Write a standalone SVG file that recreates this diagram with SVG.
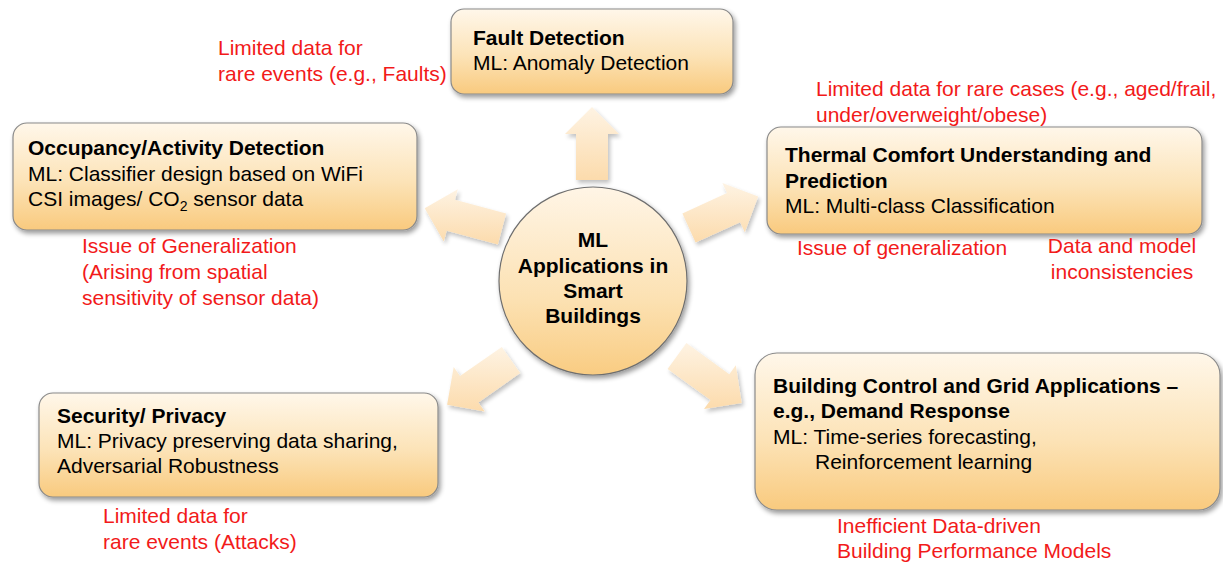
<svg xmlns="http://www.w3.org/2000/svg" width="1223" height="563" viewBox="0 0 1223 563">
  <style>
    text { font-family: "Liberation Sans", Arial, Helvetica, sans-serif; font-size: 21px; }
    .t { fill: #000; }
    .b { font-weight: bold; }
    .r { fill: #F21A1A; }
    .box { fill: url(#boxFill); stroke: #8a8a8a; stroke-width: 1.2; filter: url(#shadow); }
    .hub { fill: url(#hubFill); stroke: #6e6e6e; stroke-width: 1.2; filter: url(#shadow); }
    .arrow { fill: url(#arrowFill); filter: url(#softShadow); }
  </style>
  <defs>
    <linearGradient id="boxFill" x1="0" y1="0" x2="0" y2="1">
      <stop offset="0" stop-color="#FFF7EA"/>
      <stop offset="0.55" stop-color="#FCE3B7"/>
      <stop offset="1" stop-color="#F9CA7E"/>
    </linearGradient>
    <linearGradient id="hubFill" x1="0" y1="0" x2="0" y2="1">
      <stop offset="0" stop-color="#FFF5E6"/>
      <stop offset="0.6" stop-color="#FCE1B2"/>
      <stop offset="1" stop-color="#F9CC82"/>
    </linearGradient>
    <linearGradient id="arrowFill" x1="0" y1="0" x2="0" y2="1">
      <stop offset="0" stop-color="#FEF3E3"/>
      <stop offset="1" stop-color="#FCDBAC"/>
    </linearGradient>
    <filter id="shadow" x="-10%" y="-10%" width="125%" height="130%">
      <feGaussianBlur in="SourceAlpha" stdDeviation="2.5"/>
      <feOffset dx="1.5" dy="3" result="o"/>
      <feComponentTransfer><feFuncA type="linear" slope="0.4"/></feComponentTransfer>
      <feMerge><feMergeNode/><feMergeNode in="SourceGraphic"/></feMerge>
    </filter>
    <filter id="softShadow" x="-20%" y="-20%" width="150%" height="150%">
      <feGaussianBlur in="SourceAlpha" stdDeviation="2"/>
      <feOffset dx="1.5" dy="2.5" result="o"/>
      <feComponentTransfer><feFuncA type="linear" slope="0.25"/></feComponentTransfer>
      <feMerge><feMergeNode/><feMergeNode in="SourceGraphic"/></feMerge>
    </filter>
  </defs>

  <!-- block arrows radiating from the hub -->
  <g id="connectors">
    <polygon class="arrow" points="576,180 576,134 565,134 592,107 619,134 608,134 608,180"/>
    <polygon class="arrow" points="497.9,244.5 446.7,230.7 443.8,241.4 424.7,208.3 457.8,189.2 455,199.8 506.1,213.5"/>
    <polygon class="arrow" points="682.4,213.4 727,193.1 722.4,183.1 758.2,196.5 744.8,232.3 740.2,222.2 695.6,242.6"/>
    <polygon class="arrow" points="520.2,373.1 478.4,402.4 484.7,411.4 447.1,404.7 453.7,367.1 460,376.1 501.8,346.9"/>
    <polygon class="arrow" points="686.4,343.1 729.3,374.2 735.8,365.3 741.7,403 704,409 710.5,400.1 667.6,368.9"/>
  </g>

  <!-- central hub -->
  <g id="hub">
    <circle class="hub" cx="593" cy="281" r="94"/>
    <text class="t b" x="593" y="247" text-anchor="middle">ML</text>
    <text class="t b" x="593" y="273" text-anchor="middle">Applications in</text>
    <text class="t b" x="593" y="298" text-anchor="middle">Smart</text>
    <text class="t b" x="593" y="323" text-anchor="middle">Buildings</text>
  </g>

  <g id="fault-detection">
    <rect class="box" x="451" y="9" width="282" height="85" rx="13"/>
    <text class="t b" x="473" y="45">Fault Detection</text>
    <text class="t" x="473" y="70">ML: Anomaly Detection</text>
  </g>
  <g id="fault-note">
    <text class="r" x="218" y="55">Limited data for</text>
    <text class="r" x="218" y="81">rare events (e.g., Faults)</text>
  </g>

  <g id="occupancy">
    <rect class="box" x="13" y="123" width="404" height="107" rx="14"/>
    <text class="t b" x="28" y="155">Occupancy/Activity Detection</text>
    <text class="t" x="28" y="181">ML: Classifier design based on WiFi</text>
    <text class="t" x="28" y="206">CSI images/ CO<tspan font-size="14" dy="5">2</tspan><tspan dy="-5"> sensor data</tspan></text>
  </g>
  <g id="occupancy-note">
    <text class="r" x="82" y="253">Issue of Generalization</text>
    <text class="r" x="82" y="279">(Arising from spatial</text>
    <text class="r" x="82" y="305">sensitivity of sensor data)</text>
  </g>

  <g id="thermal-comfort">
    <rect class="box" x="767" y="127" width="435" height="107" rx="14"/>
    <text class="t b" x="785" y="162">Thermal Comfort Understanding and</text>
    <text class="t b" x="785" y="188">Prediction</text>
    <text class="t" x="785" y="213">ML: Multi-class Classification</text>
  </g>
  <g id="thermal-notes">
    <text class="r" x="816" y="96">Limited data for rare cases (e.g., aged/frail,</text>
    <text class="r" x="816" y="122">under/overweight/obese)</text>
    <text class="r" x="797" y="255">Issue of generalization</text>
    <text class="r" x="1122" y="253" text-anchor="middle">Data and model</text>
    <text class="r" x="1122" y="279" text-anchor="middle">inconsistencies</text>
  </g>

  <g id="security-privacy">
    <rect class="box" x="39" y="393" width="399" height="104" rx="14"/>
    <text class="t b" x="57" y="423">Security/ Privacy</text>
    <text class="t" x="57" y="448">ML: Privacy preserving data sharing,</text>
    <text class="t" x="57" y="473">Adversarial Robustness</text>
  </g>
  <g id="security-note">
    <text class="r" x="103" y="523">Limited data for</text>
    <text class="r" x="103" y="549">rare events (Attacks)</text>
  </g>

  <g id="building-control">
    <rect class="box" x="755" y="353" width="465" height="157" rx="22"/>
    <text class="t b" x="773" y="393">Building Control and Grid Applications –</text>
    <text class="t b" x="773" y="418">e.g., Demand Response</text>
    <text class="t" x="773" y="444">ML: Time-series forecasting,</text>
    <text class="t" x="815" y="469">Reinforcement learning</text>
  </g>
  <g id="building-note">
    <text class="r" x="837" y="533">Inefficient Data-driven</text>
    <text class="r" x="837" y="558">Building Performance Models</text>
  </g>
</svg>
